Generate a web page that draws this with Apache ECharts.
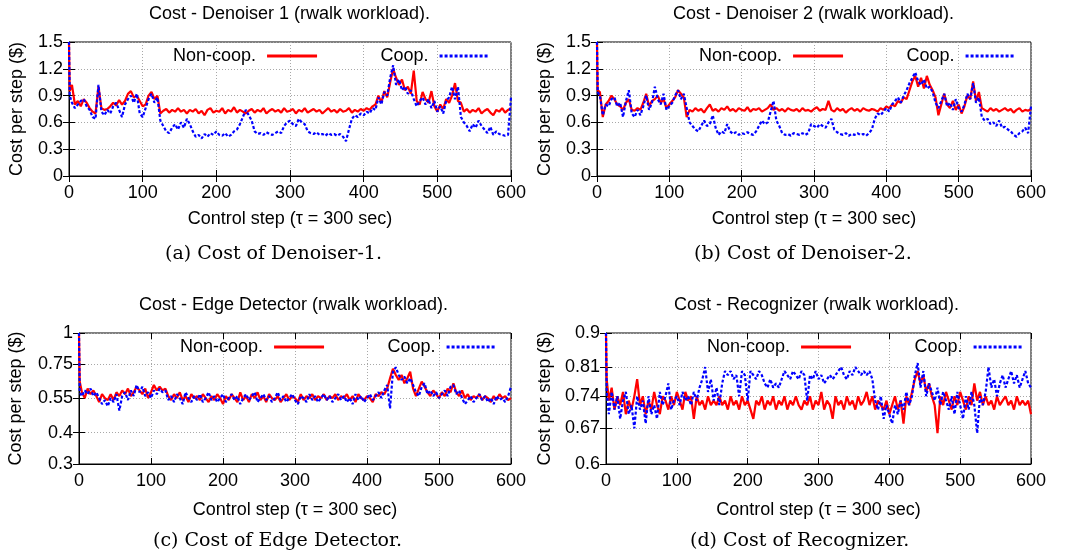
<!DOCTYPE html>
<html><head><meta charset="utf-8">
<script src="https://cdn.jsdelivr.net/npm/echarts@6/dist/echarts.min.js"></script>
<style>html,body{margin:0;padding:0;background:#fff}#c{width:1070px;height:557px}</style>
</head><body><div id="c"></div>
<script>
// control steps sampled: 0, 1, then every 4 steps up to 600
const steps = [0, 1];
for (let s = 4; s <= 600; s += 4) steps.push(s);

const xTicks = [0, 100, 200, 300, 400, 500, 600];
const yTicksDenoiser = [0, 0.3, 0.6, 0.9, 1.2, 1.5];
const yTicksEdge = [0.3, 0.4, 0.55, 0.75, 1];
const yTicksRecog = [0.6, 0.67, 0.74, 0.81, 0.9];

const panelTitles = [
  'Cost - Denoiser 1 (rwalk workload).',
  'Cost - Denoiser 2 (rwalk workload).',
  'Cost - Edge Detector (rwalk workload).',
  'Cost - Recognizer (rwalk workload).'
];
const captions = [
  '(a) Cost of Denoiser-1.',
  '(b) Cost of Denoiser-2.',
  '(c) Cost of Edge Detector.',
  '(d) Cost of Recognizer.'
];
const seriesNames = ['Non-coop.', 'Coop.'];

const den1NonCoop = [1.5, 0.95,
  1.02, 0.80, 0.84, 0.78, 0.86, 0.82, 0.76, 0.72, 0.70, 1.00,
  0.76, 0.74, 0.75, 0.78, 0.82, 0.79, 0.85, 0.80, 0.84, 0.92,
  0.95, 0.88, 0.90, 0.84, 0.78, 0.80, 0.90, 0.94, 0.86, 0.90,
  0.70, 0.73, 0.75, 0.71, 0.74, 0.72, 0.76, 0.72, 0.74, 0.70,
  0.74, 0.72, 0.75, 0.70, 0.73, 0.68, 0.74, 0.76, 0.71, 0.73,
  0.72, 0.76, 0.70, 0.74, 0.72, 0.77, 0.71, 0.74, 0.72, 0.70,
  0.73, 0.75, 0.71, 0.74, 0.72, 0.76, 0.70, 0.73, 0.75, 0.72,
  0.74, 0.71, 0.76, 0.72, 0.73, 0.75, 0.70, 0.74, 0.72, 0.76,
  0.71, 0.73, 0.75, 0.72, 0.74, 0.70, 0.73, 0.76, 0.72, 0.74,
  0.71, 0.75, 0.72, 0.73, 0.76, 0.71, 0.74, 0.72, 0.75, 0.73,
  0.76, 0.74, 0.78, 0.80, 0.90, 0.82, 0.95, 0.88, 1.05, 1.20,
  1.10, 1.02, 1.08, 0.96, 1.00, 0.92, 1.18, 0.84, 0.80, 0.94,
  0.86, 0.82, 0.95, 0.78, 0.72, 0.80, 0.75, 0.86, 0.82, 0.90,
  1.04, 0.84, 0.82, 0.72, 0.75, 0.71, 0.74, 0.72, 0.76, 0.70,
  0.73, 0.75, 0.71, 0.68, 0.74, 0.72, 0.76, 0.71, 0.74, 0.76];
const den1Coop = [1.5, 0.90,
  0.82, 0.76, 0.80, 0.84, 0.86, 0.78, 0.74, 0.66, 0.64, 1.02,
  0.72, 0.68, 0.74, 0.70, 0.78, 0.82, 0.74, 0.66, 0.80, 0.86,
  0.90, 0.82, 0.92, 0.70, 0.66, 0.76, 0.86, 0.92, 0.82, 0.88,
  0.62, 0.56, 0.50, 0.48, 0.54, 0.58, 0.52, 0.60, 0.54, 0.64,
  0.58, 0.50, 0.44, 0.46, 0.42, 0.47, 0.44, 0.48, 0.46, 0.50,
  0.46, 0.45, 0.48, 0.44, 0.46, 0.50, 0.52, 0.58, 0.66, 0.74,
  0.68, 0.62, 0.50, 0.47, 0.48, 0.46, 0.49, 0.47, 0.46, 0.48,
  0.50, 0.48, 0.56, 0.60, 0.62, 0.58, 0.56, 0.64, 0.60, 0.58,
  0.50, 0.48, 0.47, 0.49, 0.46, 0.47, 0.45, 0.48, 0.46, 0.47,
  0.45, 0.47, 0.44, 0.39, 0.52, 0.64, 0.68, 0.66, 0.70, 0.68,
  0.72, 0.70, 0.76, 0.74, 0.88, 0.80, 0.94, 0.90, 1.10, 1.24,
  1.02, 1.08, 0.96, 1.00, 0.92, 0.96, 0.86, 0.78, 0.84, 0.88,
  0.80, 0.86, 0.76, 0.84, 0.72, 0.78, 0.70, 0.84, 0.88, 1.00,
  0.86, 1.00, 0.66, 0.60, 0.56, 0.50, 0.58, 0.54, 0.62, 0.56,
  0.52, 0.48, 0.55, 0.46, 0.50, 0.47, 0.46, 0.45, 0.46, 0.88];
const den2NonCoop = [1.5, 0.96,
  0.94, 0.66, 0.80, 0.84, 0.90, 0.86, 0.80, 0.78, 0.74, 0.82,
  0.86, 0.74, 0.73, 0.76, 0.74, 0.82, 0.92, 0.78, 0.84, 0.86,
  0.90, 0.82, 0.86, 0.76, 0.80, 0.84, 0.88, 0.96, 0.92, 0.88,
  0.66, 0.74, 0.72, 0.76, 0.73, 0.75, 0.71, 0.76, 0.80, 0.73,
  0.75, 0.72, 0.76, 0.74, 0.78, 0.73, 0.75, 0.72, 0.76, 0.74,
  0.73, 0.77, 0.72, 0.75, 0.74, 0.76, 0.72, 0.74, 0.76, 0.80,
  0.74, 0.76, 0.73, 0.75, 0.72, 0.76, 0.74, 0.73, 0.75, 0.72,
  0.76, 0.73, 0.74, 0.72, 0.75, 0.77, 0.73, 0.75, 0.74, 0.84,
  0.74, 0.72, 0.76, 0.73, 0.75, 0.71, 0.74, 0.76, 0.73, 0.75,
  0.72, 0.76, 0.74, 0.73, 0.75, 0.74, 0.72, 0.76, 0.74, 0.78,
  0.76, 0.80, 0.78, 0.84, 0.82, 0.88, 0.86, 0.96, 1.06, 1.12,
  1.00, 1.10, 0.98, 1.12, 1.02, 0.96, 0.88, 0.68, 0.80, 0.92,
  0.80, 0.76, 0.84, 0.74, 0.80, 0.70, 0.78, 0.90, 0.86, 1.06,
  0.84, 0.94, 0.76, 0.74, 0.72, 0.76, 0.73, 0.75, 0.72, 0.74,
  0.76, 0.73, 0.75, 0.71, 0.74, 0.76, 0.72, 0.74, 0.73, 0.75];
const den2Coop = [1.5, 0.94,
  0.90, 0.68, 0.80, 0.78, 0.86, 0.88, 0.78, 0.82, 0.66, 0.84,
  0.96, 0.70, 0.66, 0.74, 0.68, 0.78, 0.90, 0.74, 0.82, 1.00,
  0.86, 0.80, 0.92, 0.74, 0.78, 0.82, 0.90, 0.96, 0.86, 0.92,
  0.76, 0.60, 0.56, 0.52, 0.50, 0.56, 0.62, 0.56, 0.58, 0.68,
  0.54, 0.46, 0.50, 0.48, 0.58, 0.50, 0.47, 0.49, 0.46, 0.48,
  0.47, 0.49, 0.47, 0.46, 0.50, 0.56, 0.62, 0.58, 0.60, 0.72,
  0.84, 0.62, 0.56, 0.48, 0.46, 0.47, 0.45, 0.48, 0.47, 0.46,
  0.48, 0.46, 0.48, 0.58, 0.56, 0.54, 0.58, 0.56, 0.54, 0.60,
  0.64, 0.52, 0.49, 0.47, 0.46, 0.48, 0.45, 0.47, 0.46, 0.48,
  0.46, 0.47, 0.45, 0.48, 0.52, 0.64, 0.70, 0.68, 0.72, 0.76,
  0.72, 0.80, 0.84, 0.88, 0.82, 0.90, 0.96, 1.04, 1.10, 1.16,
  1.06, 1.02, 1.08, 0.98, 1.00, 0.94, 0.82, 0.76, 0.84, 0.92,
  0.78, 0.82, 0.74, 0.86, 0.76, 0.72, 0.80, 0.92, 0.86, 1.04,
  0.82, 0.88, 0.66, 0.62, 0.64, 0.58, 0.60, 0.56, 0.62, 0.54,
  0.55, 0.52, 0.50, 0.46, 0.44, 0.48, 0.50, 0.54, 0.48, 0.78];
const edgeNonCoop = [1.0, 0.64,
  0.58, 0.55, 0.60, 0.57, 0.59, 0.56, 0.53, 0.57, 0.55, 0.54,
  0.57, 0.54, 0.58, 0.56, 0.59, 0.57, 0.60, 0.56, 0.58, 0.61,
  0.59, 0.57, 0.60, 0.55, 0.58, 0.62, 0.59, 0.61, 0.59, 0.60,
  0.56, 0.54, 0.57, 0.55, 0.58, 0.54, 0.56, 0.53, 0.57, 0.55,
  0.56, 0.54, 0.57, 0.55, 0.53, 0.56, 0.54, 0.57, 0.55, 0.52,
  0.56, 0.54, 0.57, 0.55, 0.53, 0.58, 0.54, 0.56, 0.53, 0.57,
  0.55, 0.58, 0.54, 0.56, 0.53, 0.57, 0.55, 0.54, 0.56, 0.53,
  0.55, 0.57, 0.54, 0.56, 0.55, 0.53, 0.57, 0.54, 0.56, 0.55,
  0.57, 0.54, 0.56, 0.55, 0.57, 0.54, 0.56, 0.55, 0.57, 0.54,
  0.56, 0.55, 0.57, 0.54, 0.56, 0.53, 0.57, 0.55, 0.54, 0.56,
  0.55, 0.53, 0.57, 0.56, 0.58, 0.57, 0.60, 0.66, 0.72, 0.68,
  0.65, 0.68, 0.63, 0.66, 0.70, 0.60, 0.56, 0.60, 0.64, 0.61,
  0.58, 0.56, 0.59, 0.57, 0.55, 0.58, 0.56, 0.60, 0.58, 0.63,
  0.58, 0.56, 0.59, 0.55, 0.57, 0.54, 0.56, 0.55, 0.57, 0.54,
  0.56, 0.55, 0.53, 0.56, 0.54, 0.57, 0.55, 0.56, 0.54, 0.55];
const edgeCoop = [1.0, 0.58,
  0.56, 0.59, 0.57, 0.60, 0.56, 0.58, 0.55, 0.52, 0.54, 0.51,
  0.55, 0.53, 0.57, 0.49, 0.56, 0.58, 0.54, 0.59, 0.56, 0.62,
  0.58, 0.61, 0.56, 0.58, 0.55, 0.59, 0.57, 0.60, 0.58, 0.59,
  0.54, 0.56, 0.53, 0.57, 0.55, 0.52, 0.58, 0.55, 0.53, 0.56,
  0.54, 0.57, 0.53, 0.55, 0.58, 0.54, 0.56, 0.53, 0.55, 0.57,
  0.53, 0.55, 0.57, 0.54, 0.56, 0.52, 0.55, 0.57, 0.54, 0.56,
  0.58, 0.53, 0.55, 0.57, 0.54, 0.56, 0.53, 0.55, 0.58, 0.54,
  0.56, 0.53, 0.55, 0.57, 0.54, 0.52, 0.56, 0.55, 0.53, 0.57,
  0.54, 0.56, 0.53, 0.55, 0.57, 0.54, 0.56, 0.53, 0.55, 0.57,
  0.54, 0.56, 0.53, 0.55, 0.52, 0.57, 0.54, 0.56, 0.53, 0.55,
  0.57, 0.54, 0.56, 0.58, 0.55, 0.59, 0.62, 0.50, 0.70, 0.73,
  0.68, 0.65, 0.67, 0.63, 0.66, 0.62, 0.58, 0.56, 0.61, 0.63,
  0.57, 0.59, 0.56, 0.58, 0.55, 0.57, 0.59, 0.56, 0.61, 0.62,
  0.57, 0.59, 0.55, 0.52, 0.54, 0.56, 0.53, 0.55, 0.57, 0.54,
  0.56, 0.53, 0.55, 0.52, 0.56, 0.54, 0.55, 0.53, 0.56, 0.61];
const recogNonCoop = [0.9, 0.78,
  0.73, 0.76, 0.71, 0.74, 0.72, 0.75, 0.70, 0.73, 0.71, 0.74,
  0.78, 0.72, 0.74, 0.70, 0.73, 0.71, 0.75, 0.72, 0.70, 0.74,
  0.73, 0.71, 0.74, 0.72, 0.75, 0.73, 0.71, 0.75, 0.73, 0.74,
  0.69, 0.74, 0.72, 0.73, 0.71, 0.74, 0.72, 0.73, 0.72, 0.74,
  0.72, 0.73, 0.71, 0.74, 0.72, 0.73, 0.71, 0.74, 0.72, 0.73,
  0.71, 0.69, 0.73, 0.72, 0.74, 0.71, 0.73, 0.72, 0.74, 0.71,
  0.73, 0.72, 0.74, 0.71, 0.73, 0.72, 0.74, 0.72, 0.71, 0.73,
  0.72, 0.74, 0.71, 0.73, 0.72, 0.75, 0.71, 0.73, 0.72, 0.69,
  0.74, 0.72, 0.73, 0.71, 0.74, 0.72, 0.73, 0.71, 0.74, 0.72,
  0.73, 0.75, 0.72, 0.74, 0.71, 0.73, 0.72, 0.71, 0.73, 0.70,
  0.72, 0.74, 0.71, 0.73, 0.68, 0.74, 0.72, 0.75, 0.78, 0.80,
  0.77, 0.79, 0.75, 0.77, 0.74, 0.72, 0.66, 0.74, 0.72, 0.75,
  0.73, 0.71, 0.74, 0.72, 0.75, 0.73, 0.71, 0.74, 0.72, 0.77,
  0.73, 0.75, 0.72, 0.74, 0.72, 0.73, 0.71, 0.74, 0.72, 0.73,
  0.74, 0.72, 0.73, 0.71, 0.74, 0.72, 0.73, 0.72, 0.73, 0.70];
const recogCoop = [0.9, 0.75,
  0.70, 0.75, 0.71, 0.74, 0.69, 0.73, 0.75, 0.70, 0.72, 0.67,
  0.74, 0.71, 0.73, 0.68, 0.74, 0.70, 0.72, 0.69, 0.75, 0.72,
  0.74, 0.77, 0.71, 0.73, 0.74, 0.72, 0.75, 0.73, 0.74, 0.72,
  0.75, 0.73, 0.76, 0.78, 0.81, 0.75, 0.78, 0.73, 0.76, 0.72,
  0.77, 0.80, 0.79, 0.80, 0.78, 0.79, 0.74, 0.80, 0.79, 0.73,
  0.80, 0.79, 0.78, 0.80, 0.79, 0.77, 0.76, 0.78, 0.76, 0.77,
  0.76, 0.78, 0.80, 0.79, 0.78, 0.80, 0.79, 0.78, 0.80, 0.79,
  0.73, 0.79, 0.78, 0.80, 0.78, 0.79, 0.77, 0.78, 0.79, 0.78,
  0.79, 0.80, 0.81, 0.79, 0.78, 0.80, 0.79, 0.81, 0.80, 0.79,
  0.80, 0.79, 0.80, 0.78, 0.73, 0.71, 0.74, 0.69, 0.72, 0.70,
  0.68, 0.72, 0.70, 0.73, 0.71, 0.75, 0.72, 0.74, 0.79, 0.82,
  0.76, 0.80, 0.74, 0.77, 0.75, 0.73, 0.76, 0.72, 0.75, 0.73,
  0.71, 0.74, 0.70, 0.75, 0.72, 0.69, 0.74, 0.71, 0.75, 0.72,
  0.66, 0.74, 0.72, 0.75, 0.81, 0.76, 0.78, 0.74, 0.77, 0.79,
  0.76, 0.78, 0.80, 0.77, 0.79, 0.76, 0.78, 0.80, 0.77, 0.76];

const panels = [
  {non: den1NonCoop, coop: den1Coop, yTicks: yTicksDenoiser, log: false,
   grid: {left: 69, top: 42, width: 442, height: 134}, nameGap: 43, xNameGap: 34,
   titleX: 290, titleY: 5, capX: 273, capY: 245, legendX: 173, legendY: 47},
  {non: den2NonCoop, coop: den2Coop, yTicks: yTicksDenoiser, log: false,
   grid: {left: 597, top: 42, width: 434, height: 134}, nameGap: 43, xNameGap: 34,
   titleX: 814, titleY: 5, capX: 803, capY: 245, legendX: 699, legendY: 47},
  {non: edgeNonCoop, coop: edgeCoop, yTicks: yTicksEdge, log: true,
   grid: {left: 79, top: 333, width: 432, height: 131}, nameGap: 54, xNameGap: 37,
   titleX: 294, titleY: 296, capX: 278, capY: 532, legendX: 180, legendY: 338},
  {non: recogNonCoop, coop: recogCoop, yTicks: yTicksRecog, log: true,
   grid: {left: 606, top: 333, width: 425, height: 131}, nameGap: 52, xNameGap: 37,
   titleX: 817, titleY: 296, capX: 800, capY: 532, legendX: 707, legendY: 338}
];

const FONT = "'Liberation Sans', Arial, Helvetica, sans-serif";
const gridLine = {show: true, lineStyle: {color: '#a8a8a8', type: [1, 2], width: 1}};
const tickStyle = {show: true, inside: true, length: 6, lineStyle: {color: '#000'}};

const option = {
  animation: false,
  backgroundColor: '#fff',
  textStyle: {fontFamily: FONT, color: '#000'},
  grid: [], xAxis: [], yAxis: [], series: [], title: [], legend: []
};

panels.forEach((p, i) => {
  option.grid.push(Object.assign({show: true, borderColor: '#000', borderWidth: 1, backgroundColor: 'transparent'}, p.grid));
  option.xAxis.push({
    type: 'value', gridIndex: i, min: xTicks[0], max: xTicks[xTicks.length - 1], interval: 100,
    name: 'Control step (\u03c4 = 300 sec)', nameLocation: 'middle', nameGap: p.xNameGap,
    nameTextStyle: {fontSize: 18, fontFamily: FONT, color: '#000'},
    axisLine: {show: true, lineStyle: {color: '#000', width: 1}},
    axisTick: tickStyle,
    axisLabel: {fontSize: 18, fontFamily: FONT, color: '#000', margin: 8},
    splitLine: gridLine
  });
  const yAx = {
    gridIndex: i, min: p.yTicks[0], max: p.yTicks[p.yTicks.length - 1],
    name: 'Cost per step ($)', nameLocation: 'middle', nameRotate: 90, nameGap: p.nameGap,
    nameTextStyle: {fontSize: 18, fontFamily: FONT, color: '#000'},
    axisLine: {show: true, lineStyle: {color: '#000', width: 1}},
    axisTick: Object.assign({}, tickStyle),
    axisLabel: {fontSize: 18, fontFamily: FONT, color: '#000', margin: 6,
      formatter: v => String(+v.toFixed(2))},
    splitLine: gridLine
  };
  if (p.log) {
    yAx.type = 'log';
    yAx.axisLabel.customValues = p.yTicks;
    yAx.axisTick.customValues = p.yTicks;
  } else {
    yAx.type = 'value';
    yAx.interval = 0.3;
  }
  option.yAxis.push(yAx);
  option.series.push({
    name: seriesNames[0], type: 'line', xAxisIndex: i, yAxisIndex: i, symbol: 'none',
    data: steps.map((x, j) => [x, p.non[j]]),
    lineStyle: {color: '#ff0000', width: 2.2}, itemStyle: {color: '#ff0000'}, z: 2
  });
  option.series.push({
    name: seriesNames[1], type: 'line', xAxisIndex: i, yAxisIndex: i, symbol: 'none',
    data: steps.map((x, j) => [x, p.coop[j]]),
    lineStyle: {color: '#0000ff', width: 2.2, type: [3, 2]}, itemStyle: {color: '#0000ff'}, z: 3
  });
  option.title.push({
    text: panelTitles[i], left: p.titleX, top: p.titleY, padding: 0,
    textStyle: {fontSize: 18, fontWeight: 'normal', fontFamily: FONT, color: '#000'}
  });
  option.title.push({
    text: captions[i], left: p.capX, top: p.capY, padding: 0,
    textStyle: {fontSize: 19, fontWeight: 'normal', fontFamily: "'DejaVu Serif', serif", color: '#000'}
  });
  option.legend.push({
    data: seriesNames, left: p.legendX, top: p.legendY, align: 'right', orient: 'horizontal',
    itemWidth: 50, itemHeight: 14, itemGap: 62, padding: 0,
    itemStyle: {opacity: 0}, lineStyle: {width: 3},
    textStyle: {fontSize: 18, fontFamily: FONT, color: '#000', padding: [0, 6, 0, 0]},
    selectedMode: false
  });
});

// mirror ticks on top and right borders (gnuplot style)
panels.forEach((p, i) => {
  option.xAxis.push({
    type: 'value', gridIndex: i, position: 'top', min: xTicks[0], max: xTicks[xTicks.length - 1], interval: 100,
    axisLine: {show: false}, axisTick: tickStyle, axisLabel: {show: false}, splitLine: {show: false}
  });
  const yR = {
    gridIndex: i, position: 'right', min: p.yTicks[0], max: p.yTicks[p.yTicks.length - 1],
    axisLine: {show: false}, axisTick: Object.assign({}, tickStyle), axisLabel: {show: false}, splitLine: {show: false}
  };
  if (p.log) {
    yR.type = 'log';
    yR.axisTick.customValues = p.yTicks;
    yR.axisLabel.customValues = p.yTicks;
  } else {
    yR.type = 'value';
    yR.interval = 0.3;
  }
  option.yAxis.push(yR);
});

const chart = echarts.init(document.getElementById('c'), null, {renderer: 'canvas'});
// centre titles/captions on their anchor x using measured text widths
const ctx = document.createElement('canvas').getContext('2d');
option.title.forEach(t => {
  ctx.font = `${t.textStyle.fontSize}px ${t.textStyle.fontFamily}`;
  t.left = Math.round(t.left - ctx.measureText(t.text).width / 2);
});
chart.setOption(option);
</script></body></html>
